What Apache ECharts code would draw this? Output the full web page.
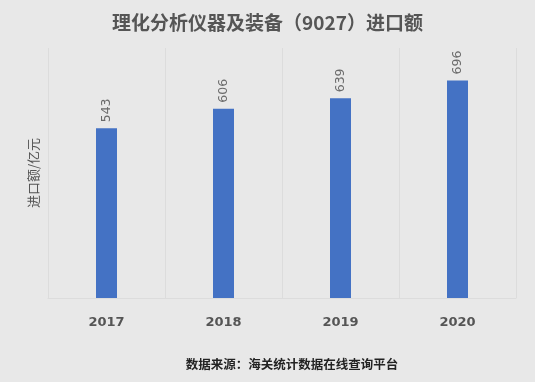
<!DOCTYPE html>
<html><head><meta charset="utf-8">
<script src="https://cdn.jsdelivr.net/npm/echarts@6/dist/echarts.min.js"></script>
<style>html,body{margin:0;padding:0;background:#e8e8e8}#c{width:535px;height:382px}</style>
</head><body><div id="c"></div>
<script>
const categories = ['2017','2018','2019','2020'];
const importValues = [543, 606, 639, 696];
const titleText = '理化分析仪器及装备（9027）进口额';
const yAxisName = '进口额/亿元';
const sourceText = '数据来源：海关统计数据在线查询平台';

const chart = echarts.init(document.getElementById('c'));
const font = '"Noto Sans CJK SC", "Noto Sans", sans-serif';
chart.setOption({
  backgroundColor: '#e8e8e8',
  textStyle: {fontFamily: font},
  title: [
    {text: titleText, left: 'center', top: 8, textStyle: {fontSize: 19, fontWeight: 'bold', color: '#555', fontFamily: font}},
    {text: sourceText, left: 287, textAlign: 'center', top: 353, textStyle: {fontSize: 12.5, fontWeight: 'bold', color: '#222', fontFamily: font}}
  ],
  grid: {left: 48, right: 19, top: 48, bottom: 84},
  xAxis: {
    type: 'category', data: categories,
    axisLine: {show: true, lineStyle: {color: '#dcdcdc'}},
    axisTick: {show: false},
    splitLine: {show: true, lineStyle: {color: '#dcdcdc'}},
    axisLabel: {margin: 18, fontSize: 13, fontWeight: 'bold', color: '#555', fontFamily: 'DejaVu Sans'}
  },
  yAxis: {
    type: 'value', min: 0, max: 800,
    name: yAxisName, nameLocation: 'middle', nameGap: 8, nameRotate: 90,
    nameTextStyle: {fontSize: 13, color: '#555', fontFamily: font},
    axisLine: {show: false}, axisTick: {show: false}, axisLabel: {show: false},
    splitLine: {show: false}
  },
  series: [{
    type: 'bar', data: importValues, barWidth: 21,
    itemStyle: {color: '#4472c4'},
    label: {show: true, position: 'top', rotate: 90, align: 'left', verticalAlign: 'middle', distance: 6,
      fontSize: 12.5, color: '#6a6a6a', fontFamily: 'DejaVu Sans'}
  }]
});
</script></body></html>
